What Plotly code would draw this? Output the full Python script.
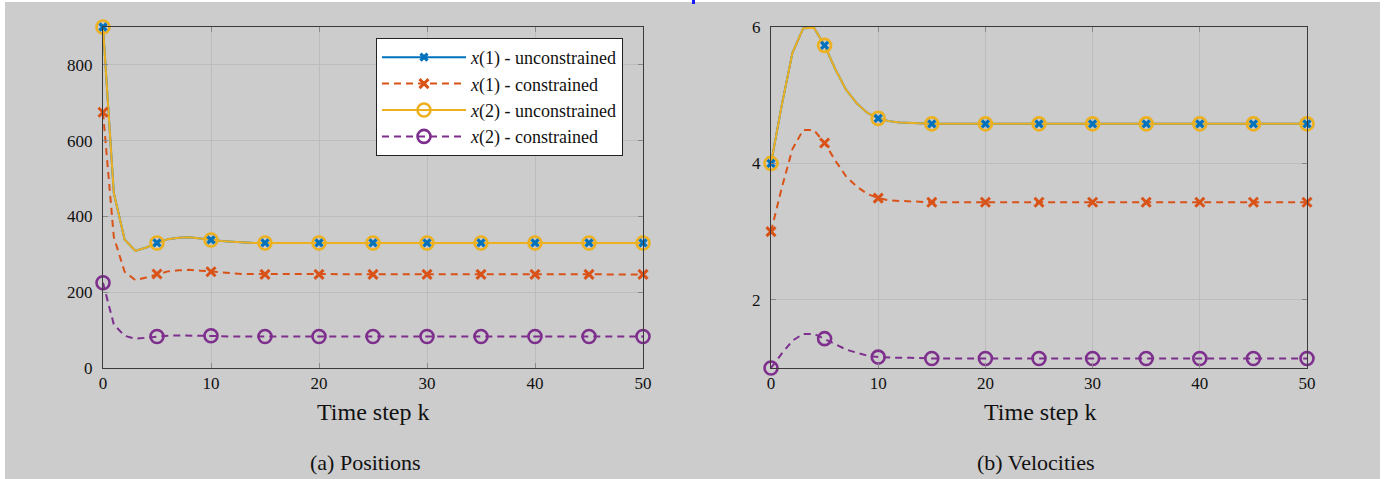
import plotly.graph_objects as go

# ---- data -------------------------------------------------------------
steps = list(range(51))
marker_every = 5

pos_x1_unc = [900, 462, 339, 309, 318, 330, 340, 344, 345, 342,
              338, 335, 333, 331, 330, 330, 330, 330, 330, 330,
              330, 330, 330, 330, 330, 330, 330, 330, 330, 330,
              330, 330, 330, 330, 330, 330, 330, 330, 330, 330,
              330, 330, 330, 330, 330, 330, 330, 330, 330, 330, 330]
pos_x1_con = [675, 346, 254, 232, 239, 248, 255, 258, 259, 257,
              254, 251, 250, 248, 248, 247, 247, 247, 247, 247,
              247, 247, 247, 247, 247, 247, 247, 247, 247, 247,
              247, 247, 247, 247, 247, 247, 247, 247, 247, 247,
              247, 247, 247, 247, 247, 247, 247, 247, 247, 247, 247]
pos_x2_unc = [900, 462, 339, 309, 318, 330, 340, 344, 345, 342,
              338, 335, 333, 331, 330, 330, 330, 330, 330, 330,
              330, 330, 330, 330, 330, 330, 330, 330, 330, 330,
              330, 330, 330, 330, 330, 330, 330, 330, 330, 330,
              330, 330, 330, 330, 330, 330, 330, 330, 330, 330, 330]
pos_x2_con = [225, 115, 85, 77, 80, 83, 85, 86, 86, 86,
              85, 84, 83, 83, 83, 83, 83, 83, 83, 83,
              83, 83, 83, 83, 83, 83, 83, 83, 83, 83,
              83, 83, 83, 83, 83, 83, 83, 83, 83, 83,
              83, 83, 83, 83, 83, 83, 83, 83, 83, 83, 83]

vel_x1_unc = [4.00, 4.85, 5.62, 5.98, 5.99, 5.73, 5.38, 5.08, 4.88, 4.74,
              4.66, 4.62, 4.60, 4.59, 4.58, 4.58, 4.58, 4.58, 4.58, 4.58,
              4.58, 4.58, 4.58, 4.58, 4.58, 4.58, 4.58, 4.58, 4.58, 4.58,
              4.58, 4.58, 4.58, 4.58, 4.58, 4.58, 4.58, 4.58, 4.58, 4.58,
              4.58, 4.58, 4.58, 4.58, 4.58, 4.58, 4.58, 4.58, 4.58, 4.58, 4.58]
vel_x1_con = [3.00, 3.64, 4.21, 4.49, 4.49, 4.30, 4.04, 3.81, 3.66, 3.55,
              3.49, 3.46, 3.45, 3.44, 3.44, 3.43, 3.43, 3.43, 3.43, 3.43,
              3.43, 3.43, 3.43, 3.43, 3.43, 3.43, 3.43, 3.43, 3.43, 3.43,
              3.43, 3.43, 3.43, 3.43, 3.43, 3.43, 3.43, 3.43, 3.43, 3.43,
              3.43, 3.43, 3.43, 3.43, 3.43, 3.43, 3.43, 3.43, 3.43, 3.43, 3.43]
vel_x2_unc = [4.00, 4.85, 5.62, 5.98, 5.99, 5.73, 5.38, 5.08, 4.88, 4.74,
              4.66, 4.62, 4.60, 4.59, 4.58, 4.58, 4.58, 4.58, 4.58, 4.58,
              4.58, 4.58, 4.58, 4.58, 4.58, 4.58, 4.58, 4.58, 4.58, 4.58,
              4.58, 4.58, 4.58, 4.58, 4.58, 4.58, 4.58, 4.58, 4.58, 4.58,
              4.58, 4.58, 4.58, 4.58, 4.58, 4.58, 4.58, 4.58, 4.58, 4.58, 4.58]
vel_x2_con = [1.00, 1.21, 1.40, 1.50, 1.50, 1.43, 1.35, 1.27, 1.22, 1.18,
              1.16, 1.15, 1.15, 1.15, 1.14, 1.14, 1.14, 1.14, 1.14, 1.14,
              1.14, 1.14, 1.14, 1.14, 1.14, 1.14, 1.14, 1.14, 1.14, 1.14,
              1.14, 1.14, 1.14, 1.14, 1.14, 1.14, 1.14, 1.14, 1.14, 1.14,
              1.14, 1.14, 1.14, 1.14, 1.14, 1.14, 1.14, 1.14, 1.14, 1.14, 1.14]

series_names = ["<i>x</i>(1) - unconstrained", "<i>x</i>(1) - constrained",
                "<i>x</i>(2) - unconstrained", "<i>x</i>(2) - constrained"]

x_ticks = [0, 10, 20, 30, 40, 50]
pos_ticks = [0, 200, 400, 600, 800]
vel_ticks = [2, 4, 6]

axis_title = "Time step k"
captions = ["(a) Positions", "(b) Velocities"]

# ---- styles -----------------------------------------------------------
W, H = 1387, 479
FONT = "Liberation Serif, Times New Roman, serif"
BLUE, ORANGE, YELLOW, PURPLE = "#0072BD", "#D95319", "#EDB120", "#7E2F8E"
DASH = "7px,5px"

styles = [
    dict(color=BLUE, dash="solid", symbol="x-thin", size=7, mw=3.2),
    dict(color=ORANGE, dash=DASH, symbol="x-thin", size=9, mw=3.0),
    dict(color=YELLOW, dash="solid", symbol="circle-open", size=13, mw=2.6),
    dict(color=PURPLE, dash=DASH, symbol="circle-open", size=13, mw=2.6),
]


def px_x(p):
    return p / W


def px_y(p):
    return 1 - p / H


fig = go.Figure()

# legend entries (line + marker sample)
for name, st in zip(series_names, styles):
    fig.add_trace(go.Scatter(
        x=[None], y=[None], mode="lines+markers", name=name,
        legendgroup=name, xaxis="x", yaxis="y",
        line=dict(color=st["color"], width=2, dash=st["dash"]),
        marker=dict(symbol=st["symbol"], size=st["size"],
                    color=st["color"],
                    line=dict(color=st["color"], width=st["mw"]))))

panels = [
    ("x", "y", [pos_x1_unc, pos_x1_con, pos_x2_unc, pos_x2_con]),
    ("x2", "y2", [vel_x1_unc, vel_x1_con, vel_x2_unc, vel_x2_con]),
]

for xa, ya, series in panels:
    # lines through every step
    for vals, st in zip(series, styles):
        fig.add_trace(go.Scatter(
            x=steps, y=vals, mode="lines", showlegend=False,
            xaxis=xa, yaxis=ya, cliponaxis=False, hoverinfo="skip",
            line=dict(color=st["color"], width=2, dash=st["dash"])))
    # markers every fifth step
    for idx in (2, 3, 1, 0):
        vals, st = series[idx], styles[idx]
        fig.add_trace(go.Scatter(
            x=steps[::marker_every], y=vals[::marker_every], mode="markers",
            showlegend=False, xaxis=xa, yaxis=ya, cliponaxis=False,
            marker=dict(symbol=st["symbol"], size=st["size"],
                        color=st["color"],
                        line=dict(color=st["color"], width=st["mw"]))))

axis_common = dict(
    showline=True, linecolor="#3a3a3a", linewidth=1, mirror="ticks",
    ticks="inside", ticklen=5, tickcolor="#8a8a8a", tickwidth=1,
    showgrid=True, gridcolor="#bcbcbc", gridwidth=1, zeroline=False,
    automargin=False,
    tickfont=dict(family=FONT, size=17, color="#111"),
)

plot_top, plot_bot = 27, 368
fig.update_layout(
    template="none",
    width=W, height=H, autosize=False,
    margin=dict(l=0, r=0, t=0, b=0, pad=0, autoexpand=False),
    paper_bgcolor="white",
    plot_bgcolor="rgba(0,0,0,0)",
    font=dict(family=FONT, color="#111"),
    showlegend=True,
    xaxis=dict(domain=[px_x(103), px_x(643)], range=[0, 50],
               tickvals=x_ticks, anchor="y", **axis_common),
    yaxis=dict(domain=[px_y(plot_bot), px_y(plot_top)], range=[0, 900],
               tickvals=pos_ticks, anchor="x", ticklabelstandoff=6,
               **axis_common),
    xaxis2=dict(domain=[px_x(771), px_x(1307)], range=[0, 50],
                tickvals=x_ticks, anchor="y2", **axis_common),
    yaxis2=dict(domain=[px_y(plot_bot), px_y(plot_top)], range=[1, 6],
                tickvals=vel_ticks, anchor="x2", ticklabelstandoff=6,
                **axis_common),
    legend=dict(
        x=px_x(623), xanchor="right", y=px_y(38), yanchor="top",
        bgcolor="white", bordercolor="#222", borderwidth=1,
        font=dict(family=FONT, size=18, color="#111"),
        traceorder="grouped", tracegroupgap=0, itemwidth=84,
    ),
    shapes=[
        # grey page backdrop
        dict(type="rect", xref="paper", yref="paper", layer="below",
             x0=px_x(5), x1=px_x(1380), y0=0, y1=px_y(2),
             fillcolor="#cccccc", line=dict(width=0)),
        # small blue link mark at the top edge
        dict(type="rect", xref="paper", yref="paper", layer="above",
             x0=px_x(692), x1=px_x(695), y0=px_y(4), y1=1,
             fillcolor="#1a1aff", line=dict(width=0)),
    ],
)

annotations = []
for cx, ccx, cap in zip((373, 1040), (365, 1036), captions):
    annotations.append(dict(
        x=px_x(cx), y=px_y(412), xref="paper", yref="paper",
        text=axis_title, showarrow=False, xanchor="center", yanchor="middle",
        font=dict(family=FONT, size=24, color="#111")))
    annotations.append(dict(
        x=px_x(ccx), y=px_y(462), xref="paper", yref="paper", text=cap,
        showarrow=False, xanchor="center", yanchor="middle",
        font=dict(family=FONT, size=22, color="#111")))
fig.update_layout(annotations=annotations)

fig.write_html(
    "out.html",
    post_script="document.body.style.margin='0';"
                "document.body.style.overflow='hidden';",
)
